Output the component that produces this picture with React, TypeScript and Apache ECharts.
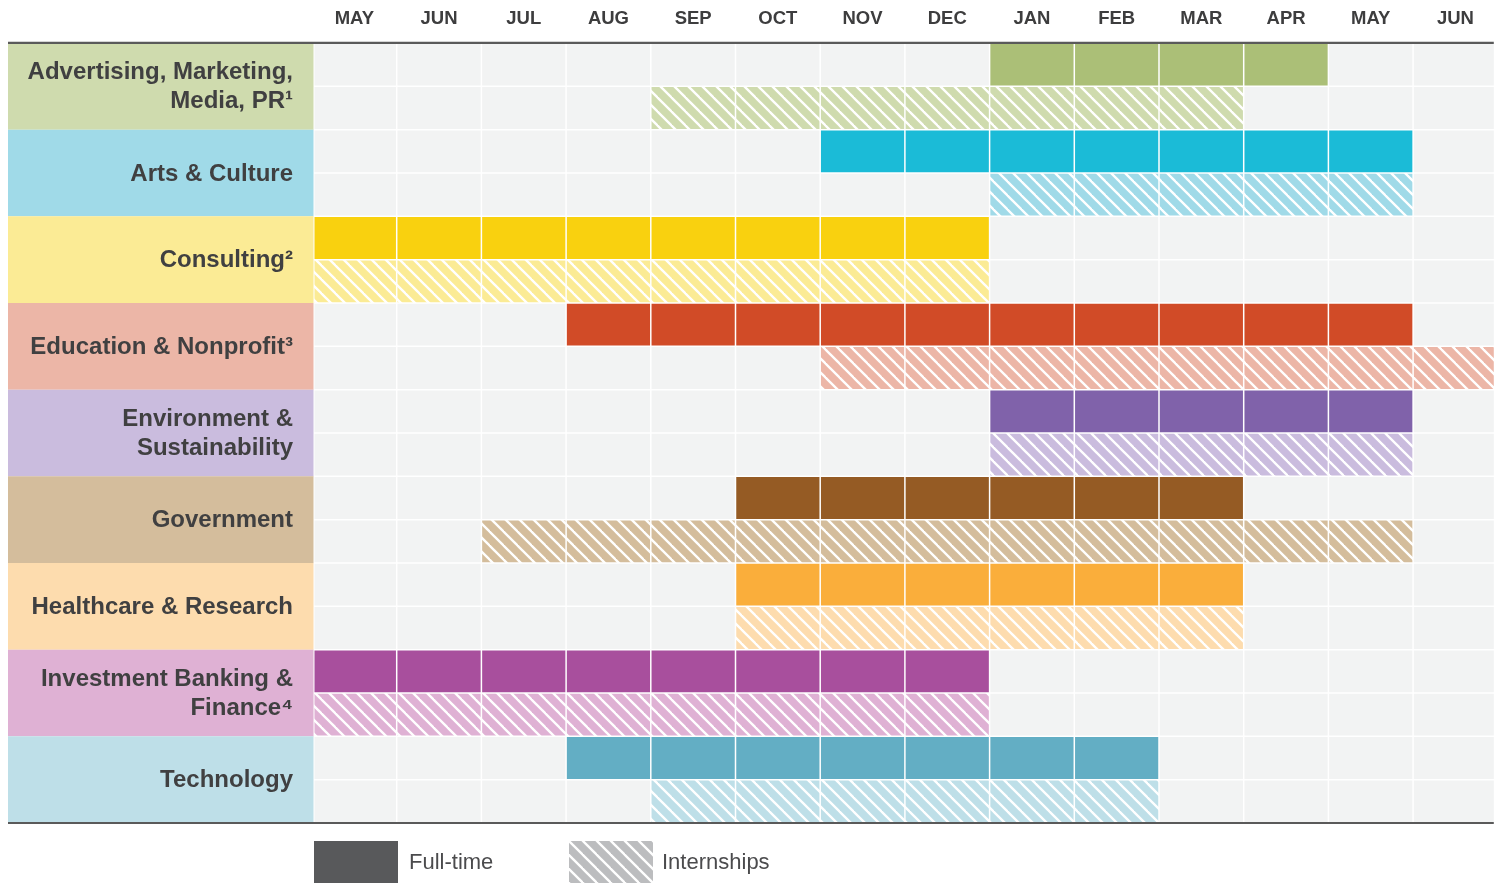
import React, { useEffect, useRef } from "react";
import * as echarts from "echarts";

const months = ["MAY", "JUN", "JUL", "AUG", "SEP", "OCT", "NOV", "DEC", "JAN", "FEB", "MAR", "APR", "MAY", "JUN"];
const categories = [
  "Advertising, Marketing,\nMedia, PR¹",
  "Arts & Culture",
  "Consulting²",
  "Education & Nonprofit³",
  "Environment &\nSustainability",
  "Government",
  "Healthcare & Research",
  "Investment Banking &\nFinance⁴",
  "Technology",
];
// month index ranges: start inclusive, end exclusive
const fullTimeStart = [8, 6, 0, 3, 8, 5, 5, 0, 3];
const fullTimeEnd = [12, 13, 8, 13, 13, 11, 11, 8, 10];
const internStart = [4, 8, 0, 6, 8, 2, 5, 0, 4];
const internEnd = [11, 13, 8, 14, 13, 13, 11, 8, 10];

const fullColors = ["#abbf77", "#1bbbd7", "#f9d10f", "#d14b27", "#8062aa", "#955b24", "#faae3b", "#a84f9d", "#63aec4"];
const lightColors = ["#cfdbae", "#a0dae8", "#fbeb95", "#ecb6a7", "#cabcde", "#d4bd9c", "#fddcae", "#dfb1d4", "#bedfe8"];

const legendLabels = ["Full-time", "Internships"];

const FONT = "'Liberation Sans', Arial, Helvetica, sans-serif";
const TILE = 14;

function makePattern(bg: string) {
  const cv = document.createElement("canvas");
  cv.width = TILE;
  cv.height = TILE;
  const ctx = cv.getContext("2d")!;
  ctx.fillStyle = bg;
  ctx.fillRect(0, 0, TILE, TILE);
  ctx.strokeStyle = "#ffffff";
  ctx.lineWidth = 2.3;
  for (let k = -1; k <= 1; k++) {
    ctx.beginPath();
    ctx.moveTo(k * TILE - 2, -2);
    ctx.lineTo(k * TILE + TILE + 2, TILE + 2);
    ctx.stroke();
  }
  return { image: cv.toDataURL(), repeat: "repeat", imageWidth: TILE, imageHeight: TILE };
}

export default function App() {
  const ref = useRef<HTMLDivElement>(null);
  useEffect(() => {
    if (!ref.current) return;
    const chart = echarts.init(ref.current, undefined, { renderer: "svg" });
    const patterns = lightColors.map((c) => makePattern(c));
    const legendPattern = makePattern("#bcbdbf");

    const cellData: number[][] = [];
    categories.forEach((_, c) => {
      for (let s = 0; s < 2; s++) {
        const st = s === 0 ? fullTimeStart[c] : internStart[c];
        const en = s === 0 ? fullTimeEnd[c] : internEnd[c];
        for (let m = 0; m < months.length; m++) {
          const kind = m >= st && m < en ? (s === 0 ? 1 : 2) : 0;
          cellData.push([m, c * 2 + s, kind, c]);
        }
      }
    });
    const labelData = categories.map((_, c) => [0, c * 2, c]);

    const renderCell = (params: any, api: any) => {
      const col = api.value(0);
      const row = api.value(1);
      const kind = api.value(2);
      const c = api.value(3);
      const p = api.coord([col, row]);
      const size = api.size([1, 1]);
      const w = Math.abs(size[0]);
      const h = Math.abs(size[1]);
      const cs = params.coordSys;
      const clipRight = cs.x + cs.width - 4;
      let x1 = p[0] - w / 2 + 0.75;
      let x2 = p[0] + w / 2 - 0.75;
      if (col === 0) x1 = cs.x + 2.5;
      x2 = Math.min(x2, clipRight);
      const y1 = p[1] + 0.75;
      const y2 = p[1] + h - 0.75;
      const fill = kind === 0 ? "#f2f3f3" : kind === 1 ? fullColors[c] : patterns[c];
      return {
        type: "rect",
        shape: { x: x1, y: y1, width: x2 - x1, height: y2 - y1 },
        style: { fill },
      };
    };

    const renderLabel = (params: any, api: any) => {
      const row = api.value(1);
      const c = api.value(2);
      const p = api.coord([0, row]);
      const h = Math.abs(api.size([1, 1])[1]) * 2;
      const cs = params.coordSys;
      const panelRight = cs.x + 1.5;
      return {
        type: "group",
        children: [
          {
            type: "rect",
            shape: { x: 8, y: p[1], width: panelRight - 8, height: h },
            style: { fill: lightColors[c] },
          },
          {
            type: "text",
            style: {
              text: categories[c],
              x: cs.x - 19,
              y: p[1] + h / 2 - 1,
              align: "right",
              verticalAlign: "middle",
              fontSize: 24,
              fontWeight: "bold",
              fontFamily: FONT,
              lineHeight: 29,
              fill: "#404041",
            },
          },
        ],
      };
    };

    const renderFrame = (params: any, api: any) => {
      const cs = params.coordSys;
      const clipRight = cs.x + cs.width - 4;
      const topY = api.coord([0, 0])[1] - 0.2;
      const botY = api.coord([0, categories.length * 2])[1];
      return {
        type: "group",
        children: [
          { type: "line", shape: { x1: 8, y1: topY, x2: clipRight, y2: topY }, style: { stroke: "#5a5a5a", lineWidth: 2.2 } },
          { type: "line", shape: { x1: 8, y1: botY, x2: clipRight, y2: botY }, style: { stroke: "#5a5a5a", lineWidth: 2.2 } },
        ],
      };
    };

    chart.setOption({
      animation: false,
      grid: { left: 312, right: 3.2, top: 43, bottom: 61, containLabel: false, outerBoundsMode: "none" },
      xAxis: {
        type: "category",
        position: "top",
        data: months,
        axisLine: { show: false },
        axisTick: { show: false },
        splitLine: { show: false },
        axisLabel: {
          interval: 0,
          margin: 16,
          fontSize: 18.5,
          fontWeight: "bold",
          fontFamily: FONT,
          color: "#3d3d3e",
        },
      },
      yAxis: {
        type: "value",
        min: 0,
        max: categories.length * 2,
        inverse: true,
        show: false,
      },
      series: [
        { type: "custom", name: "cells", data: cellData, renderItem: renderCell, z: 1, silent: true },
        { type: "custom", name: "labels", data: labelData, renderItem: renderLabel, z: 2, silent: true },
        { type: "custom", name: "frame", data: [[0, 0]], renderItem: renderFrame, z: 3, silent: true },
      ],
      graphic: [
        { type: "rect", left: 314, top: 841, shape: { width: 84, height: 42 }, style: { fill: "#58595b" } },
        {
          type: "text",
          left: 409,
          top: 850,
          style: { text: legendLabels[0], fontSize: 22, fontFamily: FONT, fill: "#4b4b4d" },
        },
        { type: "rect", left: 569, top: 841, shape: { width: 84, height: 42 }, style: { fill: legendPattern } },
        {
          type: "text",
          left: 662,
          top: 850,
          style: { text: legendLabels[1], fontSize: 22, fontFamily: FONT, fill: "#4b4b4d" },
        },
      ],
    });
    return () => chart.dispose();
  }, []);
  return <div ref={ref} style={{ position: "fixed", left: 0, top: 0, width: 1501, height: 884 }} />;
}
